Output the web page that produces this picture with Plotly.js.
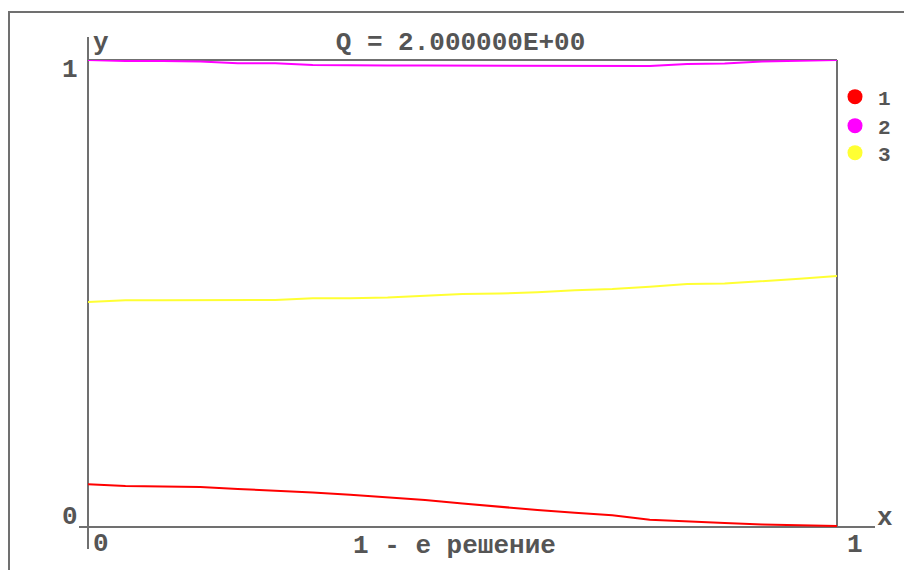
<!DOCTYPE html>
<html>
<head>
<meta charset="utf-8">
<script src="https://cdn.plot.ly/plotly-3.0.1.min.js"></script>
<style>
html,body{margin:0;padding:0;background:#fff;}
#chart{width:904px;height:570px;}
</style>
</head>
<body>
<div id="chart"></div>
<script>
// ---- data ----
const xValues = [0, 0.05, 0.10, 0.15, 0.20, 0.25, 0.30, 0.35, 0.40, 0.45, 0.50,
                 0.55, 0.60, 0.65, 0.70, 0.75, 0.80, 0.85, 0.90, 0.95, 1.00];
const series1 = [0.0914, 0.0878, 0.0867, 0.0857, 0.0814, 0.0782, 0.0739, 0.0692, 0.0636, 0.0578, 0.0503,
                 0.0428, 0.0364, 0.0306, 0.0251, 0.0154, 0.0128, 0.0086, 0.0054, 0.0032, 0.0021];
const series2 = [1.0000, 0.9979, 0.9979, 0.9968, 0.9929, 0.9929, 0.9893, 0.9882, 0.9882, 0.9882, 0.9882,
                 0.9882, 0.9882, 0.9882, 0.9872, 0.9872, 0.9914, 0.9925, 0.9968, 0.9979, 1.0000];
const series3 = [0.4818, 0.4854, 0.4854, 0.4854, 0.4854, 0.4860, 0.4897, 0.4897, 0.4914, 0.4946, 0.4989,
                 0.5000, 0.5026, 0.5069, 0.5096, 0.5143, 0.5203, 0.5214, 0.5257, 0.5315, 0.5375];
const seriesNames = ['1', '2', '3'];
const seriesColors = ['#ff0000', '#ff00ff', '#ffff33'];
const titleText = 'Q = 2.000000E+00';
const xLabel = '1 - е решение';
const yLabel = 'y';
const xAxisName = 'x';
const xTickLabels = ['0', '1'];
const yTickLabels = ['0', '1'];

const FONT = 'Liberation Mono, DejaVu Sans Mono, monospace';
const TXT = '#555555';
const GRAY = '#707070';

// plot area: x 88..837 px, y 60..527 px
const W = 749, H = 467, L = 88, B = 527;
const px = v => (v - L) / W;
const py = v => (B - v) / H;

const legendIds = ['legend', 'legend2', 'legend3'];
const legendRows = [97, 126, 153];

const allSeries = [series1, series2, series3];
const traces = [];
allSeries.forEach((ys, i) => {
  traces.push({
    x: xValues, y: ys, type: 'scatter', mode: 'lines', name: seriesNames[i],
    line: {color: seriesColors[i], width: 2, shape: 'linear'},
    cliponaxis: false, showlegend: false, hoverinfo: 'skip'
  });
});
// legend entries (dots)
seriesNames.forEach((n, i) => {
  traces.push({
    x: [null], y: [null], type: 'scatter', mode: 'markers', name: n,
    marker: {color: seriesColors[i], size: 15, symbol: 'circle'},
    showlegend: true, legend: legendIds[i]
  });
});

function ann(text, x, y, size) {
  return {text: text, xref: 'paper', yref: 'paper', x: px(x), y: py(y),
          xanchor: 'center', yanchor: 'middle', showarrow: false,
          font: {family: FONT, size: size || 26, color: TXT, weight: 'bold'}};
}

const layout = {
  width: 904, height: 570,
  paper_bgcolor: '#ffffff', plot_bgcolor: '#ffffff',
  margin: {l: 88, r: 67, t: 60, b: 43, pad: 0, autoexpand: false},
  title: {text: titleText, x: 460.5 / 904, xref: 'container', xanchor: 'center',
          y: 1 - 40.5 / 570, yref: 'container', yanchor: 'middle',
          font: {family: FONT, size: 26, color: TXT, weight: 'bold'}},
  xaxis: {range: [0, 1], showgrid: false, zeroline: false, showline: false,
          showticklabels: false, ticks: '', fixedrange: true},
  yaxis: {range: [0, 1], showgrid: false, zeroline: false, showline: false,
          showticklabels: false, ticks: '', fixedrange: true},
  showlegend: true,
  shapes: [
    // outer frame
    {type: 'rect', xref: 'paper', yref: 'paper', x0: px(9), x1: px(910), y0: py(580), y1: py(12),
     line: {color: GRAY, width: 2}, layer: 'below'},
    // left axis
    {type: 'line', xref: 'paper', yref: 'paper', x0: 0, x1: 0, y0: py(549), y1: py(37),
     line: {color: GRAY, width: 2}, layer: 'below'},
    // bottom axis
    {type: 'line', xref: 'paper', yref: 'paper', x0: px(79), x1: px(875), y0: 0, y1: 0,
     line: {color: GRAY, width: 2}, layer: 'below'},
    // top border
    {type: 'line', xref: 'paper', yref: 'paper', x0: 0, x1: 1, y0: 1, y1: 1,
     line: {color: GRAY, width: 2}, layer: 'below'},
    // right border
    {type: 'line', xref: 'paper', yref: 'paper', x0: 1, x1: 1, y0: 0, y1: 1,
     line: {color: GRAY, width: 2}, layer: 'below'}
  ],
  annotations: [
    ann(yLabel, 101, 43),
    ann(yTickLabels[1], 70, 70),
    ann(yTickLabels[0], 70, 517),
    ann(xTickLabels[0], 101, 544),
    ann(xTickLabels[1], 855, 545),
    ann(xAxisName, 885, 518),
    ann(xLabel, 454.5, 546)
  ]
};
legendIds.forEach((id, i) => {
  layout[id] = {x: px(832), xanchor: 'left', y: py(legendRows[i]), yanchor: 'middle',
                bgcolor: 'rgba(0,0,0,0)', borderwidth: 0,
                font: {family: FONT, size: 21, color: TXT, weight: 'bold'},
                itemwidth: 36};
});

Plotly.newPlot('chart', traces, layout, {displayModeBar: false, staticPlot: true});
</script>
</body>
</html>
